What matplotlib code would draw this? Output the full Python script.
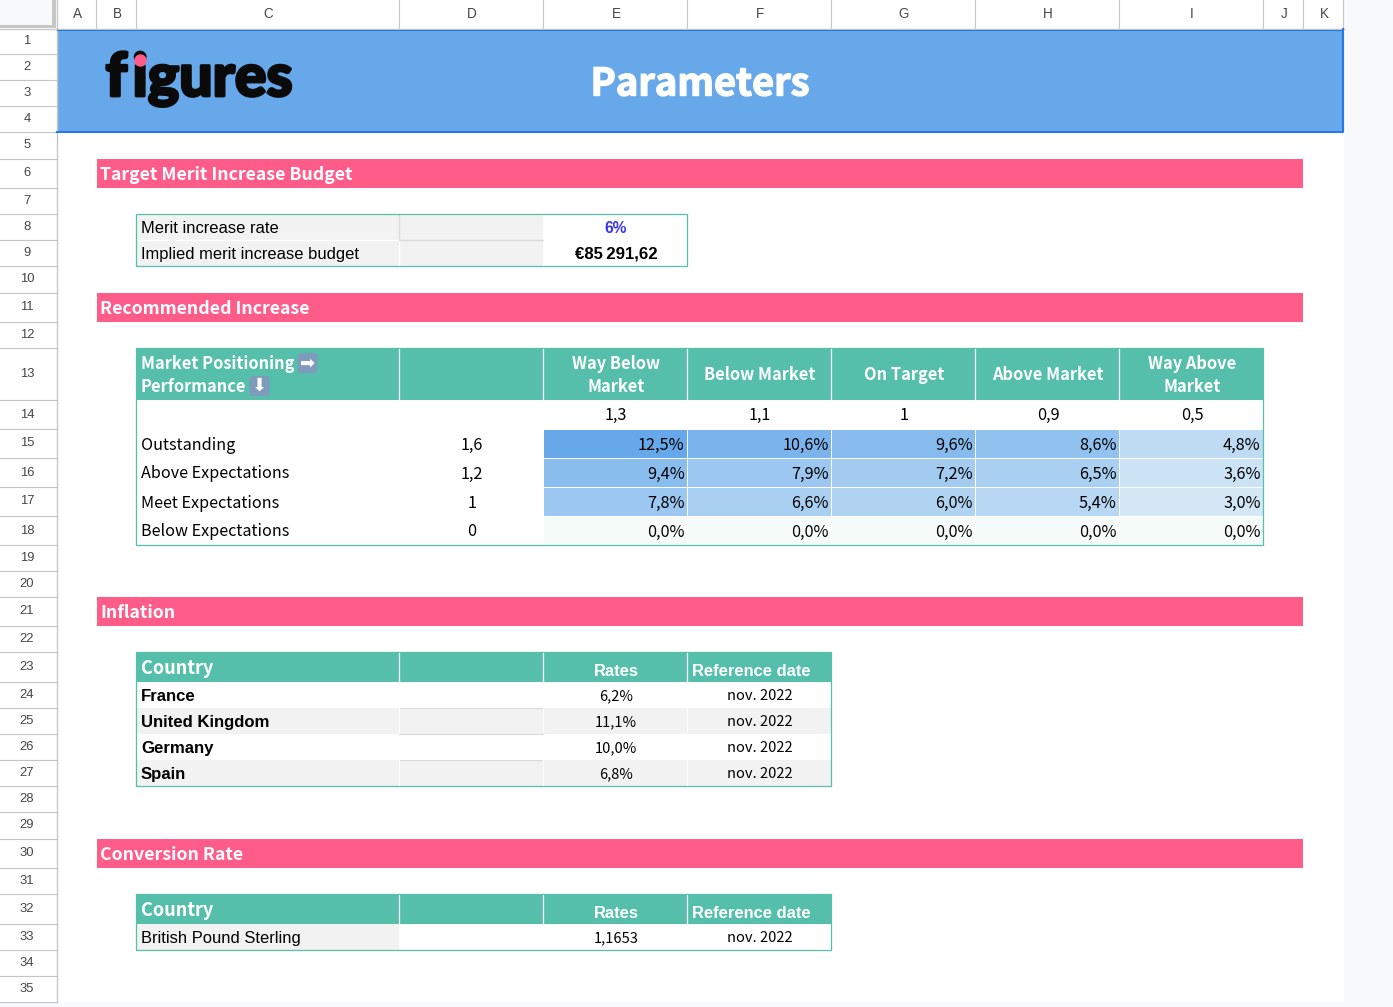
import numpy as np
import matplotlib
matplotlib.use('Agg')
import matplotlib.pyplot as plt
import matplotlib.patheffects as pe
from matplotlib.colors import LinearSegmentedColormap
from matplotlib.patches import Circle, FancyBboxPatch, Rectangle

# Sheet grid
COLUMNS = ['A', 'B', 'C', 'D', 'E', 'F', 'G', 'H', 'I', 'J', 'K']
COL_WIDTHS = [40, 40, 263, 144, 144, 144, 144, 144, 144, 40, 40]
ROW_HEIGHTS = [26, 26, 26, 26, 27, 29, 26, 26, 26, 27, 29, 26, 52, 29, 29, 29, 29, 29,
               26, 26, 29, 26, 30, 26, 26, 26, 26, 26, 27, 29, 26, 30, 26, 26, 26]

# Merit table
MERIT_LABELS = ['Merit increase rate', 'Implied merit increase budget']
MERIT_VALUES = ['6%', '€85\u2009291,62']

# Recommended increase table
MARKET_LABELS = ['Way Below\nMarket', 'Below Market', 'On Target', 'Above Market', 'Way Above\nMarket']
MARKET_FACTORS = ['1,3', '1,1', '1', '0,9', '0,5']
PERF_LABELS = ['Outstanding', 'Above Expectations', 'Meet Expectations', 'Below Expectations']
PERF_FACTORS = ['1,6', '1,2', '1', '0']
INCREASES = [[12.5, 10.6, 9.6, 8.6, 4.8],
             [9.4, 7.9, 7.2, 6.5, 3.6],
             [7.8, 6.6, 6.0, 5.4, 3.0],
             [0.0, 0.0, 0.0, 0.0, 0.0]]

# Inflation and conversion tables
COUNTRIES = ['France', 'United Kingdom', 'Germany', 'Spain']
INFLATION = ['6,2%', '11,1%', '10,0%', '6,8%']
REF_DATE = 'nov. 2022'
CURRENCY = 'British Pound Sterling'
CONVERSION = '1,1653'

BLUE = '#66a8ea'
BLUE_EDGE = '#2a78e4'
PINK = '#ff5c8a'
TEAL = '#55bfab'
GREY = '#f2f2f2'
GRID = '#c4c7c5'
SANS = 'Noto Sans CJK JP'
ARIAL = 'Liberation Sans'

col_x = 56 + np.concatenate([[0], np.cumsum(COL_WIDTHS)])
row_y = 28 + np.concatenate([[0], np.cumsum(ROW_HEIGHTS)])


def px(size):
    return size * 0.72


def box(ax, x0, y0, x1, y1, color, z=1):
    ax.add_patch(Rectangle((x0, y0), x1 - x0, y1 - y0, facecolor=color, edgecolor='none', zorder=z))


def col_mid(i):
    return (col_x[i] + col_x[i + 1]) / 2 + 1


def row_mid(r):
    return (row_y[r - 1] + row_y[r]) / 2


def section(ax, r, label):
    box(ax, 97, row_y[r - 1], 1303, row_y[r], PINK)
    ax.text(100.5, row_mid(r) + 1, label, color='white', fontsize=px(17.7), fontweight='bold',
            family=SANS, va='center', zorder=3)


def outline(ax, x0, y0, x1, y1):
    ax.add_patch(Rectangle((x0, y0), x1 - x0, y1 - y0, fill=False, edgecolor=TEAL, lw=0.9, zorder=6))


fig = plt.figure(figsize=(13.93, 10.07), dpi=100)
ax = fig.add_axes([0, 0, 1, 1])
ax.set_xlim(0, 1393)
ax.set_ylim(1007, 0)
ax.axis('off')

# Sheet chrome
box(ax, 1344, 0, 1393, 1007, '#f8f9fa', 0)
box(ax, 0, 1002, 1393, 1007, '#f8f9fa', 0)
box(ax, 0, 0, 52, 25, '#f8f9fa', 2)
box(ax, 52, 0, 56, 28, GRID, 2)
box(ax, 0, 25, 56, 28, GRID, 2)
ax.plot([0, 1344], [28.5, 28.5], color=GRID, lw=1, zorder=2)
ax.plot([56.5, 56.5], [0, 1002], color=GRID, lw=1, zorder=2)
for i, name in enumerate(COLUMNS):
    ax.plot([col_x[i + 1]] * 2, [0, 28], color=GRID, lw=0.8, zorder=2)
    ax.text(col_mid(i), 13.5, name, family=ARIAL, fontsize=px(13.5), color='#444746', ha='center', va='center')
for r in range(1, len(ROW_HEIGHTS) + 1):
    ax.plot([0, 56.5], [row_y[r]] * 2, color=GRID, lw=0.8, zorder=2)
    ax.text(27, row_mid(r), str(r), family=ARIAL, fontsize=px(13), color='#444746', ha='center', va='center')

# Banner
box(ax, 57, 29, 1343, 132, BLUE)
ax.plot([57, 1343, 1343], [131.5, 131.5, 29], color=BLUE_EDGE, lw=1.5, zorder=2)
ax.plot([57, 1343], [29.5, 29.5], color=BLUE_EDGE, lw=0.8, zorder=2)
logo_fx = [pe.withStroke(linewidth=2, foreground='#0a0a0a', joinstyle='round')]
ax.text(105.5, 96, 'f', family='Lato', fontweight='black', fontsize=px(60), color='#0a0a0a',
        ha='left', va='baseline', zorder=3, path_effects=logo_fx)
logo_rest = ax.text(132.5, 96, 'igures', family='Lato', fontweight='black', fontsize=px(59), color='#0a0a0a',
                    ha='left', va='baseline', zorder=3, path_effects=logo_fx)
# the i carries a pink dot, so keep the black one out of the picture
logo_rest.set_clip_path(Rectangle((100, 66.5), 200, 50, transform=ax.transData))
ax.add_patch(Circle((140.5, 60.5), 5.5, color=PINK, zorder=4))
ax.text(700, 84, 'Parameters', family=SANS, fontweight='bold', fontsize=px(38), color='white',
        ha='center', va='center', zorder=3,
        path_effects=[pe.withStroke(linewidth=1, foreground='white')])

section(ax, 6, 'Target Merit Increase Budget')
section(ax, 11, 'Recommended Increase')
section(ax, 21, 'Inflation')
section(ax, 30, 'Conversion Rate')

# Merit table
for k, r in enumerate([8, 9]):
    box(ax, col_x[2], row_y[r - 1], col_x[4], row_y[r], GREY)
    ax.plot([col_x[3]] * 2, [row_y[r - 1], row_y[r]], color='#dcdcdc' if k == 0 else 'white', lw=1, zorder=2)
    ax.text(141, row_mid(r) + 1.5, MERIT_LABELS[k], family=ARIAL, fontsize=px(16.55), color='black', va='center', zorder=3)
ax.plot([col_x[2], col_x[3]], [row_y[8]] * 2, color='white', lw=1, zorder=2)
ax.plot([col_x[3], col_x[4]], [row_y[8]] * 2, color='#d9d9d9', lw=1, zorder=2)
ax.text(col_mid(4), row_mid(8) + 1.5, MERIT_VALUES[0], family=ARIAL, fontweight='bold', fontsize=px(15.5),
        color='#3535f0', ha='center', va='center', zorder=3)
ax.text(col_mid(4), row_mid(9) + 1, MERIT_VALUES[1], family=[ARIAL, 'DejaVu Sans'], fontweight='bold', fontsize=px(16.8),
        color='black', ha='center', va='center', zorder=3)
outline(ax, col_x[2], row_y[7], col_x[5], row_y[9])

# Recommended increase header
box(ax, col_x[2], row_y[12], col_x[9], row_y[13], TEAL)
for i in range(3, 9):
    ax.plot([col_x[i]] * 2, [row_y[12] + 1, row_y[13]], color='white', lw=0.9, zorder=2)
ax.text(141, 364, 'Market Positioning', family=SANS, fontweight='bold', fontsize=px(16.4), color='white',
        va='center', zorder=3)
ax.text(141, 387, 'Performance', family=SANS, fontweight='bold', fontsize=px(16.4), color='white',
        va='center', zorder=3)
for bx, by, glyph in [(297.5, 353, '➡'), (249.5, 376, '⬇')]:
    ax.add_patch(FancyBboxPatch((bx + 2, by + 2), 16, 16, boxstyle='round,pad=2,rounding_size=4',
                                facecolor='#7f9bbb', edgecolor='none', zorder=3))
    ax.text(bx + 10, by + 10, glyph, family='DejaVu Sans', fontsize=px(18), color='white',
            ha='center', va='center', zorder=4)
for i, label in enumerate(MARKET_LABELS):
    ax.text(col_mid(i + 4), row_mid(13) + 1.5, label, family=SANS, fontweight='bold', fontsize=px(16.4), color='white',
            ha='center', va='center', linespacing=1.35, zorder=3)

# Recommended increase body
cmap = LinearSegmentedColormap.from_list('heat', ['#f5fbf9', BLUE])
ax.pcolormesh(col_x[4:10], row_y[14:19], np.array(INCREASES), cmap=cmap, vmin=0, vmax=12.5,
              edgecolors='white', linewidth=0.5, zorder=1)
for i, f in enumerate(MARKET_FACTORS):
    ax.text(col_mid(i + 4), row_mid(14) + 0.5, f, family=SANS, fontsize=px(16.3), color='black', ha='center', va='center')
for k, label in enumerate(PERF_LABELS):
    r = 15 + k
    ax.text(141, row_mid(r) + 1.5, label, family=SANS, fontsize=px(16.2), color='black', va='center', zorder=3)
    ax.text(col_mid(3), row_mid(r) + 1.5, PERF_FACTORS[k], family=SANS, fontsize=px(16.3), color='black',
            ha='center', va='center', zorder=3)
    for i, v in enumerate(INCREASES[k]):
        ax.text(col_x[i + 5] - 2.5, row_mid(r) + 1.5, f'{v:.1f}%'.replace('.', ','), family=SANS, fontsize=px(16.3),
                color='black', ha='right', va='center', zorder=3)
outline(ax, col_x[2], row_y[12], col_x[9], row_y[18])


def rate_header(r):
    box(ax, col_x[2], row_y[r - 1], col_x[6], row_y[r], TEAL)
    for i in [3, 4, 5]:
        ax.plot([col_x[i]] * 2, [row_y[r - 1] + 1, row_y[r]], color='white', lw=0.9, zorder=2)
    ax.text(141, row_mid(r) + 1, 'Country', family=SANS, fontweight='bold', fontsize=px(18.2), color='white',
            va='center', zorder=3)
    ax.text(col_mid(4), row_mid(r) + 4, 'Rates', family=ARIAL, fontweight='bold', fontsize=px(16.5), color='white',
            ha='center', va='center', zorder=3)
    ax.text(col_mid(5) - 8.5, row_mid(r) + 4, 'Reference date', family=ARIAL, fontweight='bold', fontsize=px(16.5),
            color='white', ha='center', va='center', zorder=3)


# Inflation table
rate_header(23)
for k, country in enumerate(COUNTRIES):
    r = 24 + k
    if k % 2 == 1:
        box(ax, col_x[2], row_y[r - 1], col_x[6], row_y[r], GREY)
        for i in [3, 4, 5]:
            ax.plot([col_x[i]] * 2, [row_y[r - 1], row_y[r]], color='white', lw=0.8, zorder=2)
    if k < 3:
        ax.plot([col_x[3], col_x[4]], [row_y[r]] * 2, color='#d9d9d9', lw=0.8, zorder=2)
    ax.text(141, row_mid(r) + 1.5, country, family=ARIAL, fontweight='bold', fontsize=px(16.8), color='black',
            va='center', zorder=3)
    ax.text(col_mid(4), row_mid(r) + 1.5, INFLATION[k], family=SANS, fontsize=px(14.7), color='black',
            ha='center', va='center', zorder=3)
    ax.text(col_mid(5), row_mid(r) + 1.5, REF_DATE, family=SANS, fontsize=px(14.7), color='black',
            ha='center', va='center', zorder=3)
outline(ax, col_x[2], row_y[22], col_x[6], row_y[27])

# Conversion table
rate_header(32)
box(ax, col_x[2], row_y[32], col_x[3], row_y[33], GREY)
ax.text(141, row_mid(33) + 1.5, CURRENCY, family=ARIAL, fontsize=px(16.55), color='black', va='center', zorder=3)
ax.text(col_mid(4), row_mid(33) + 1.5, CONVERSION, family=SANS, fontsize=px(14.7), color='black',
        ha='center', va='center', zorder=3)
ax.text(col_mid(5), row_mid(33) + 1.5, REF_DATE, family=SANS, fontsize=px(14.7), color='black',
        ha='center', va='center', zorder=3)
outline(ax, col_x[2], row_y[31], col_x[6], row_y[33])

fig.savefig('out.png', dpi=100)
plt.close(fig)
